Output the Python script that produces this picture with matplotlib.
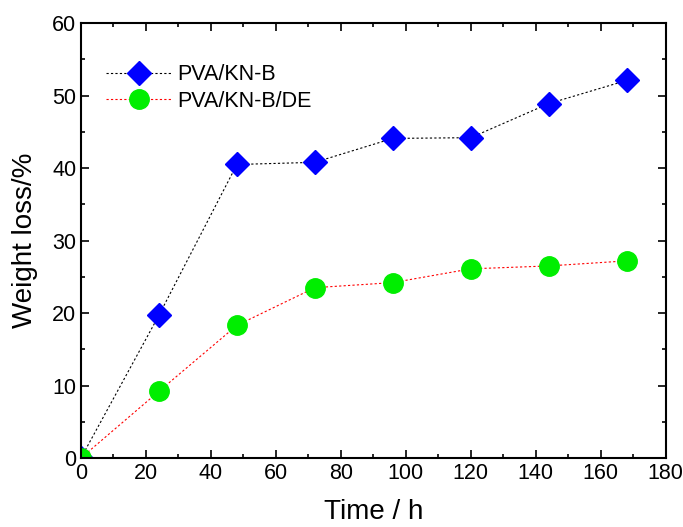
import matplotlib
matplotlib.use("Agg")
import matplotlib.pyplot as plt

time_h = [0, 24, 48, 72, 96, 120, 144, 168]
loss_knb = [0, 19.7, 40.5, 40.8, 44.1, 44.2, 48.9, 52.1]
loss_knb_de = [0, 9.2, 18.3, 23.5, 24.2, 26.1, 26.5, 27.2]
labels = ["PVA/KN-B", "PVA/KN-B/DE"]


def main():
    plt.rcParams["font.family"] = ["Liberation Sans", "DejaVu Sans"]
    fig = plt.figure(figsize=(6.83, 5.27), dpi=100)
    ax = fig.add_axes([0.1186, 0.131, 0.856, 0.825])

    ax.plot(time_h, loss_knb, color="black", linestyle=(0, (2, 2)), linewidth=0.8,
            marker="D", markersize=12, markerfacecolor="blue", markeredgecolor="blue",
            label=labels[0])
    ax.plot(time_h, loss_knb_de, color="red", linestyle=(0, (2, 2)), linewidth=0.8,
            marker="o", markersize=14, markerfacecolor="#00ee00", markeredgecolor="#00ee00",
            label=labels[1])

    ax.set_xlim(0, 180)
    ax.set_ylim(0, 60)
    ax.set_xticks(range(0, 181, 20))
    ax.set_xticks(range(10, 180, 20), minor=True)
    ax.set_yticks(range(0, 61, 10))
    ax.set_yticks(range(5, 60, 10), minor=True)
    ax.tick_params(which="both", direction="in", top=True, right=True, labelsize=15.5, width=1.2)
    ax.tick_params(which="major", length=6)
    ax.tick_params(which="minor", length=3)
    for s in ax.spines.values():
        s.set_linewidth(1.5)

    ax.set_xlabel("Time / h", fontsize=20, labelpad=11)
    ax.set_ylabel("Weight loss/%", fontsize=20, labelpad=10)
    ax.legend(loc="upper left", bbox_to_anchor=(0.01, 0.95), frameon=False, fontsize=15.5,
              handlelength=3.0, labelspacing=0.25, handletextpad=0.3)

    fig.savefig("out.png", dpi=100)


if __name__ == "__main__":
    main()
